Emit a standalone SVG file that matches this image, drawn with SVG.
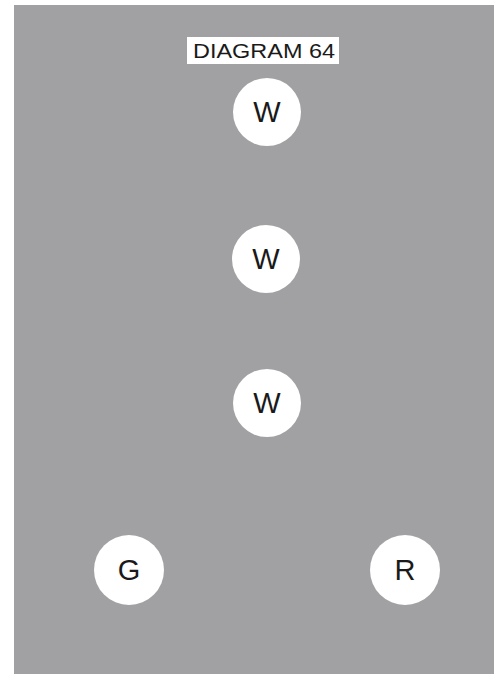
<svg xmlns="http://www.w3.org/2000/svg" width="499" height="676" viewBox="0 0 499 676">
<style>
.node circle{fill:#fff}
.node text{font-family:"Liberation Sans",Arial,sans-serif;font-size:29px;fill:#1a1a1a;text-anchor:middle;dominant-baseline:central}
.title{font-family:"Liberation Sans",Arial,sans-serif;font-size:21px;fill:#1a1a1a;text-anchor:middle}
</style>
<rect x="0" y="0" width="499" height="676" fill="#fff"/>
<rect x="14" y="5" width="480" height="669" fill="#a1a1a3"/>
<g id="title">
<rect x="187" y="37" width="152" height="27" fill="#fff"/>
<text class="title" x="264" y="58" textLength="142" lengthAdjust="spacingAndGlyphs">DIAGRAM 64</text>
</g>
<g id="connectors"></g>
<g id="w1" class="node"><circle cx="267" cy="112" r="34"/><text x="267" y="112">W</text></g>
<g id="w2" class="node"><circle cx="266" cy="259" r="34"/><text x="266" y="259">W</text></g>
<g id="w3" class="node"><circle cx="267" cy="403" r="34"/><text x="267" y="403">W</text></g>
<g id="g" class="node"><circle cx="129" cy="570" r="35"/><text x="129" y="570">G</text></g>
<g id="r" class="node"><circle cx="405" cy="570" r="35"/><text x="405" y="570">R</text></g>
</svg>
